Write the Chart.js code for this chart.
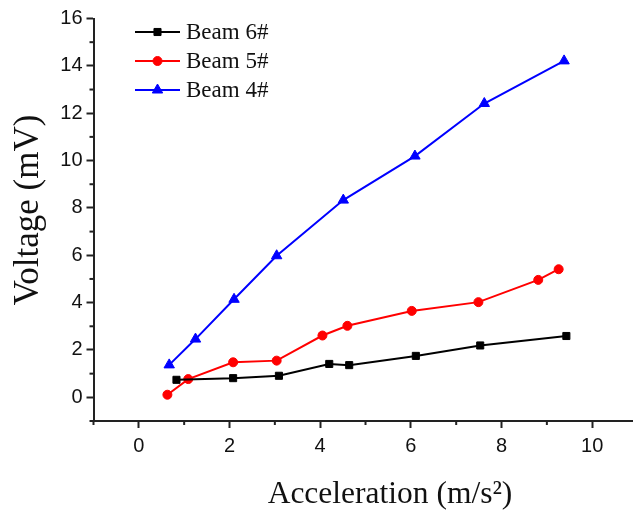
<!DOCTYPE html>
<html><head><meta charset="utf-8">
<script src="https://cdn.jsdelivr.net/npm/chart.js@4"></script>
<style>html,body{margin:0;padding:0;background:#fff;overflow:hidden}</style>
</head><body>
<canvas id="c" width="633" height="512"></canvas>
<script>
const seriesNames = ['Beam 6#', 'Beam 5#', 'Beam 4#'];
const seriesColors = ['#000000', '#ff0000', '#0000ff'];
const beam6X = [0.83, 2.08, 3.09, 4.20, 4.64, 6.11, 7.53, 9.43];
const beam6Y = [0.74, 0.81, 0.91, 1.41, 1.36, 1.75, 2.19, 2.59];
const beam5X = [0.63, 1.09, 2.08, 3.04, 4.05, 4.60, 6.02, 7.49, 8.81, 9.26];
const beam5Y = [0.11, 0.77, 1.48, 1.55, 2.61, 3.02, 3.65, 4.02, 4.96, 5.41];
const beam4X = [0.67, 1.25, 2.10, 3.04, 4.51, 6.09, 7.62, 9.38];
const beam4Y = [1.37, 2.46, 4.14, 5.98, 8.33, 10.19, 12.41, 14.21];
const xMajorTicks = [0, 2, 4, 6, 8, 10];
const xMinorTicks = [-1, 1, 3, 5, 7, 9];
const yMajorTicks = [0, 2, 4, 6, 8, 10, 12, 14, 16];
const yMinorTicks = [-1, 1, 3, 5, 7, 9, 11, 13, 15];
const xTitle = 'Acceleration (m/s²)';
const yTitle = 'Voltage (mV)';

const pts = (xs, ys) => xs.map((x, i) => ({x: x, y: ys[i]}));
const axisColor = '#222';
const serif = '"Liberation Serif", "Times New Roman", serif';
const sans = '"Liberation Sans", Arial, sans-serif';

const extras = {
  id: 'extras',
  afterDraw(chart) {
    const ctx = chart.ctx, xs = chart.scales.x, ys = chart.scales.y;
    const a = chart.chartArea;
    ctx.save();
    ctx.strokeStyle = axisColor; ctx.lineWidth = 2;
    xMinorTicks.forEach(v => {
      const p = xs.getPixelForValue(v);
      ctx.beginPath(); ctx.moveTo(p, a.bottom); ctx.lineTo(p, a.bottom + 4); ctx.stroke();
    });
    yMinorTicks.forEach(v => {
      const p = ys.getPixelForValue(v);
      ctx.beginPath(); ctx.moveTo(a.left, p); ctx.lineTo(a.left - 4, p); ctx.stroke();
    });
    // titles
    ctx.fillStyle = '#111';
    ctx.font = '31.5px ' + serif;
    ctx.textAlign = 'center'; ctx.textBaseline = 'alphabetic';
    ctx.fillText(xTitle, 390, 503);
    ctx.save();
    ctx.font = '35px ' + serif;
    ctx.translate(38, 210); ctx.rotate(-Math.PI / 2);
    ctx.fillText(yTitle, 0, 0);
    ctx.restore();
    // legend
    const rows = [32, 61, 90];
    chart.data.datasets.forEach((ds, i) => {
      const y = rows[i];
      ctx.strokeStyle = ds.borderColor; ctx.fillStyle = ds.borderColor; ctx.lineWidth = 2;
      ctx.beginPath(); ctx.moveTo(135, y); ctx.lineTo(180, y); ctx.stroke();
      ctx.lineWidth = 1;
      Chart.helpers.drawPoint(ctx, {pointStyle: ds.pointStyle, radius: ds.pointRadius, rotation: 0, borderWidth: 1}, 157.5, y);
      ctx.fillStyle = '#111';
      ctx.font = '23px ' + serif;
      ctx.textAlign = 'left'; ctx.textBaseline = 'middle';
      ctx.fillText(seriesNames[i], 186, y + 1);
    });
    ctx.restore();
  }
};

function mk(name, xs, ys, color, style, r) {
  return {label: name, data: pts(xs, ys), borderColor: color, backgroundColor: color,
    pointBackgroundColor: color, pointBorderColor: color, borderWidth: 2,
    pointStyle: style, pointRadius: r, pointBorderWidth: 1, tension: 0, clip: false};
}

new Chart(document.getElementById('c'), {
  type: 'line',
  data: {datasets: [
    mk(seriesNames[0], beam6X, beam6Y, seriesColors[0], 'rect', 5),
    mk(seriesNames[1], beam5X, beam5Y, seriesColors[1], 'circle', 4.5),
    mk(seriesNames[2], beam4X, beam4Y, seriesColors[2], 'triangle', 6)
  ]},
  options: {
    responsive: false, animation: false, devicePixelRatio: 1,
    layout: {autoPadding: false, padding: {top: 18.5, right: 0, left: 0, bottom: 0}},
    plugins: {legend: {display: false}, tooltip: {enabled: false}},
    scales: {
      x: {type: 'linear', min: -1, max: 10.9,
        afterBuildTicks: s => { s.ticks = xMajorTicks.map(v => ({value: v})); },
        afterFit: s => { s.height = 91; s.paddingLeft = 0; s.paddingRight = 0; },
        ticks: {font: {family: sans, size: 20}, color: '#111', padding: 6, maxRotation: 0, autoSkip: false},
        grid: {drawOnChartArea: false, tickLength: 7, tickWidth: 2, tickColor: axisColor},
        border: {color: axisColor, width: 2}},
      y: {type: 'linear', min: -1, max: 16,
        afterBuildTicks: s => { s.ticks = yMajorTicks.map(v => ({value: v})); },
        afterFit: s => { s.width = 93.5; s.paddingTop = 0; s.paddingBottom = 0; },
        ticks: {font: {family: sans, size: 20}, color: '#111', padding: 4, autoSkip: false},
        grid: {drawOnChartArea: false, tickLength: 7, tickWidth: 2, tickColor: axisColor},
        border: {color: axisColor, width: 2}}
    }
  },
  plugins: [extras]
});
</script>
</body></html>
